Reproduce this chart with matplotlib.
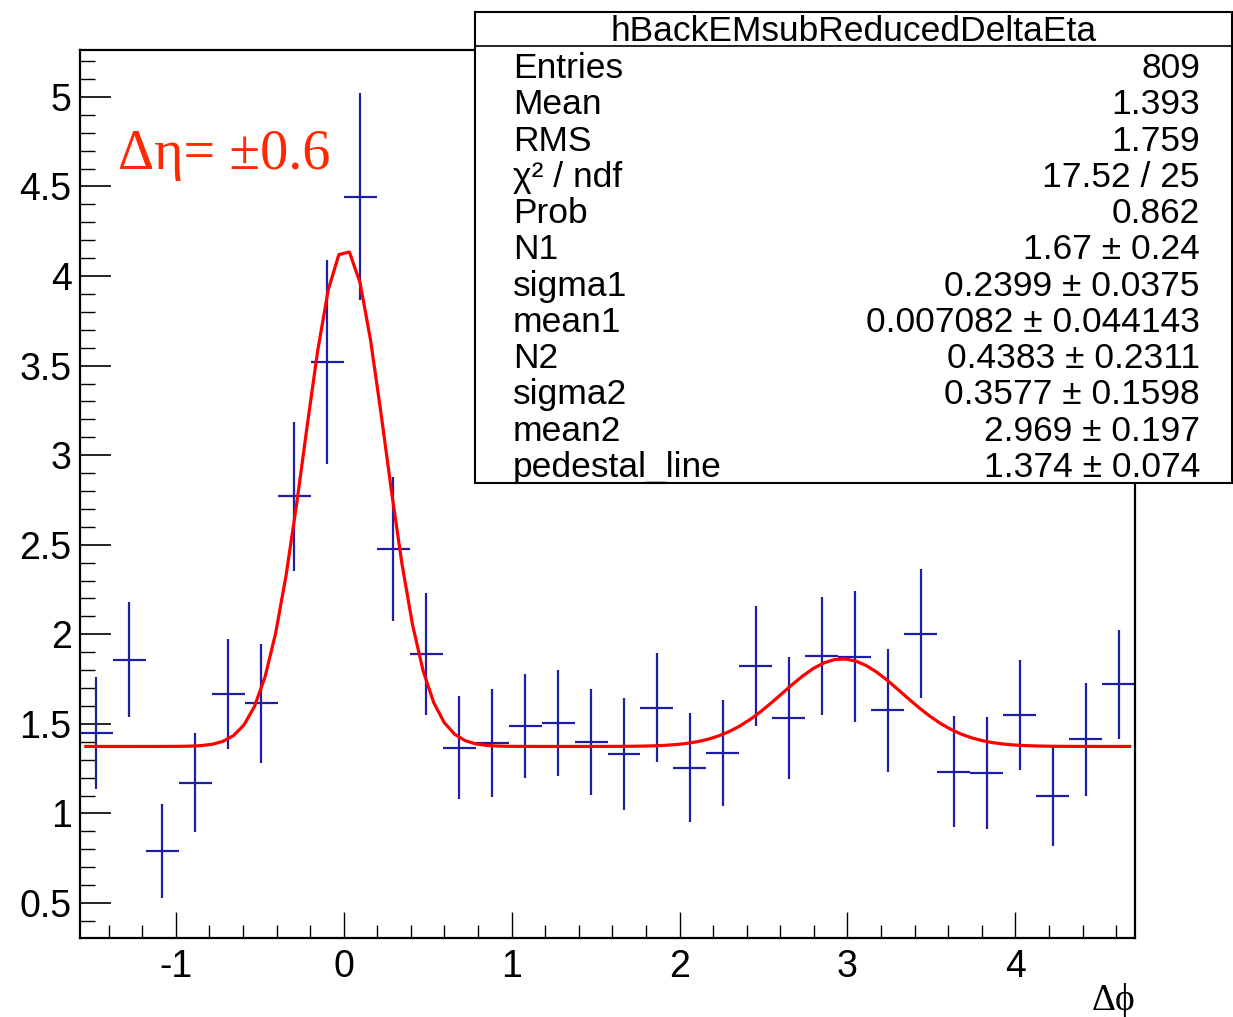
import numpy as np
import matplotlib.pyplot as plt
from matplotlib.patches import Rectangle
from matplotlib.lines import Line2D
from matplotlib.ticker import MultipleLocator

plt.rcParams['font.family'] = ['Liberation Sans', 'DejaVu Sans']

# histogram: 32 bins from -pi/2 to 3pi/2
n_bins = 32
values = [1.449, 1.858, 0.790, 1.171, 1.665, 1.615, 2.770, 3.520,
          4.442, 2.476, 1.890, 1.367, 1.393, 1.486, 1.505, 1.399,
          1.332, 1.591, 1.254, 1.337, 1.825, 1.533, 1.881, 1.876,
          1.576, 2.004, 1.233, 1.228, 1.548, 1.096, 1.414, 1.721]
errors = [0.313, 0.322, 0.262, 0.276, 0.307, 0.332, 0.416, 0.567,
          0.578, 0.402, 0.338, 0.287, 0.300, 0.290, 0.298, 0.296,
          0.312, 0.304, 0.304, 0.298, 0.335, 0.338, 0.330, 0.367,
          0.342, 0.360, 0.310, 0.313, 0.307, 0.280, 0.314, 0.305]

# fit parameters (from the stats box)
N1, sigma1, mean1 = 1.67, 0.2399, 0.007082
N2, sigma2, mean2 = 0.4383, 0.3577, 2.969
pedestal = 1.374
fit_lo, fit_hi, npx = -1.536, 4.68, 100

stats_title = "hBackEMsubReducedDeltaEta"
stats_labels = ["Entries", "Mean", "RMS", "χ² / ndf", "Prob", "N1", "sigma1",
                "mean1", "N2", "sigma2", "mean2", "pedestal_line"]
stats_values = ["809", "1.393", "1.759", "17.52 / 25", "0.862", "1.67 ± 0.24",
                "0.2399 ± 0.0375", "0.007082 ± 0.044143", "0.4383 ± 0.2311",
                "0.3577 ± 0.1598", "2.969 ± 0.197", "1.374 ± 0.074"]

W, H = 1233, 1017
fig = plt.figure(figsize=(W / 100, H / 100), dpi=100)
ax = fig.add_axes([80 / W, 79 / H, 1055 / W, 888 / H])

xmin, xmax = -np.pi / 2, 3 * np.pi / 2
edges = np.linspace(xmin, xmax, n_bins + 1)
centers = 0.5 * (edges[:-1] + edges[1:])
half = 0.5 * (edges[1] - edges[0])

ax.errorbar(centers, values, yerr=errors, xerr=half, fmt='none',
            ecolor='#1e1ea6', elinewidth=1.6, capsize=0, zorder=2)


def fitfunc(x):
    g1 = N1 / (np.sqrt(2 * np.pi) * sigma1) * np.exp(-0.5 * ((x - mean1) / sigma1) ** 2)
    g2 = N2 / (np.sqrt(2 * np.pi) * sigma2) * np.exp(-0.5 * ((x - mean2) / sigma2) ** 2)
    return pedestal + g1 + g2


xf = np.linspace(fit_lo, fit_hi, npx)
ax.plot(xf, fitfunc(xf), color='#ff0000', lw=2.3, zorder=3)

ax.set_xlim(xmin, xmax)
ax.set_ylim(0.3046, 5.262)

ax.xaxis.set_major_locator(MultipleLocator(1))
ax.xaxis.set_minor_locator(MultipleLocator(0.2))
ax.yaxis.set_major_locator(MultipleLocator(0.5))
ax.yaxis.set_minor_locator(MultipleLocator(0.1))
ax.tick_params(axis='x', which='major', direction='in', length=18.5, width=1.0,
               labelsize=27, pad=8)
ax.tick_params(axis='x', which='minor', direction='in', length=9.3, width=1.0)
ax.tick_params(axis='y', which='major', direction='in', length=22, width=1.2,
               labelsize=27, pad=6)
ax.tick_params(axis='y', which='minor', direction='in', length=10.5, width=1.0)
ax.yaxis.set_major_formatter(plt.FuncFormatter(lambda v, p: f"{v:g}"))
ax.xaxis.set_major_formatter(plt.FuncFormatter(lambda v, p: f"{v:g}"))
for s in ax.spines.values():
    s.set_linewidth(1.6)

fig.text(1135 / W, 1 - 1010 / H, "Δϕ", ha='right', va='baseline',
         family=['Liberation Serif', 'DejaVu Serif'], fontsize=27)

fig.text(118 / W, 1 - 169 / H, "Δη= ±0.6", ha='left', va='baseline',
         family='Liberation Serif', fontsize=40.5, color='#ff2800')

# stats box
bx0, bx1, by0, by1 = 475, 1232, 12, 483
fig.add_artist(Rectangle((bx0 / W, 1 - by1 / H), (bx1 - bx0) / W, (by1 - by0) / H,
                         transform=fig.transFigure, facecolor='white',
                         edgecolor='black', lw=1.5, zorder=5))
fig.add_artist(Line2D([bx0 / W, bx1 / W], [1 - 46 / H, 1 - 46 / H],
                      transform=fig.transFigure, color='black', lw=1.2, zorder=6))
fig.text((bx0 + bx1) / 2 / W, 1 - 41 / H, stats_title, ha='center', va='baseline',
         fontsize=25.5, zorder=7)
for i, (lab, val) in enumerate(zip(stats_labels, stats_values)):
    yb = 1 - (78 + i * 36.27) / H
    fig.text(513 / W, yb, lab, ha='left', va='baseline', fontsize=25.5, zorder=7)
    fig.text(1200 / W, yb, val, ha='right', va='baseline', fontsize=25.5, zorder=7)

fig.savefig("out.png", dpi=100)
